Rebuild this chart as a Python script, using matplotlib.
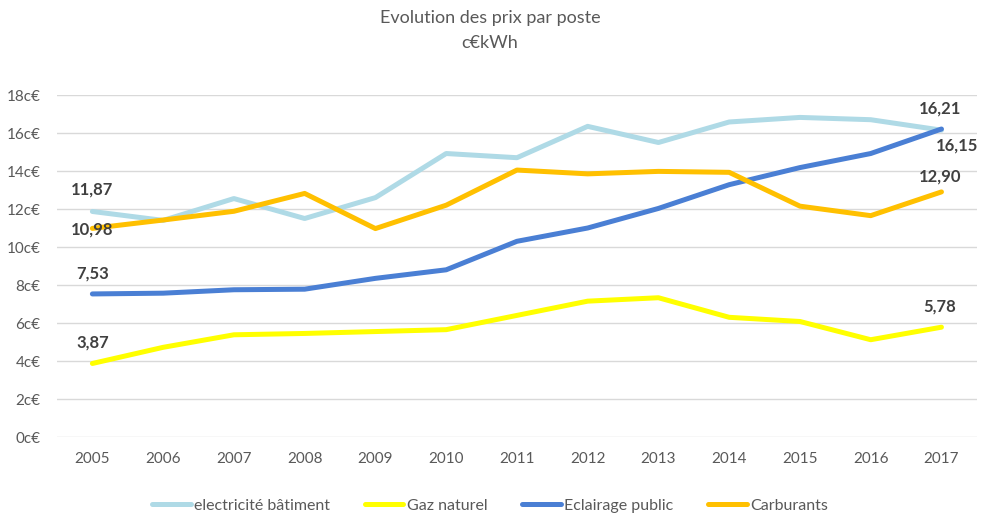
import matplotlib
matplotlib.use("Agg")
import matplotlib.pyplot as plt
from matplotlib.ticker import FuncFormatter

plt.rcParams['font.family'] = ['Lato', 'DejaVu Sans']

years = ['2005', '2006', '2007', '2008', '2009', '2010', '2011',
         '2012', '2013', '2014', '2015', '2016', '2017']
electricite = [11.87, 11.40, 12.55, 11.50, 12.60, 14.92, 14.70, 16.35, 15.50, 16.58, 16.82, 16.70, 16.15]
gaz = [3.87, 4.72, 5.38, 5.45, 5.55, 5.65, 6.40, 7.15, 7.33, 6.30, 6.08, 5.12, 5.78]
eclairage = [7.53, 7.57, 7.75, 7.78, 8.35, 8.80, 10.30, 11.00, 12.03, 13.28, 14.18, 14.92, 16.21]
carburants = [10.98, 11.42, 11.88, 12.82, 10.97, 12.20, 14.05, 13.85, 13.98, 13.93, 12.15, 11.65, 12.90]

names = ['electricité bâtiment', 'Gaz naturel', 'Eclairage public', 'Carburants']
colors = ['#AFDAE6', '#FFFF00', '#4A7FD4', '#FFC000']

fig = plt.figure(figsize=(9.88, 5.2), dpi=100)
ax = fig.add_axes([0.0577, 0.1596, 0.931, 0.6577])

x = list(range(len(years)))
series = [electricite, gaz, eclairage, carburants]
for vals, name, col in zip(series, names, colors):
    ax.plot(x, vals, color=col, lw=3.6, label=name, solid_capstyle='round',
            solid_joinstyle='round')

ax.set_xlim(-0.5, len(years) - 0.5)
ax.set_ylim(0, 18)
ax.set_yticks(range(0, 19, 2))
ax.yaxis.set_major_formatter(FuncFormatter(lambda v, p: f"{int(v)}c€"))
ax.set_xticks(x)
ax.set_xticklabels(years)
ax.tick_params(axis='both', length=0, colors='#595959', labelsize=11)
ax.tick_params(axis='y', pad=12)
ax.tick_params(axis='x', pad=11)
ax.grid(axis='y', color='#D9D9D9', lw=1)
ax.set_axisbelow(True)
for s in ax.spines.values():
    s.set_visible(False)

# data labels (first / last point)
lab = dict(fontsize=12, fontweight='bold', color='#404040', ha='center', va='center',
           textcoords='offset points')
def fmt(v):
    return f"{v:.2f}".replace('.', ',')

ax.annotate(fmt(electricite[0]), (0, electricite[0]), xytext=(0, 16), **lab)
ax.annotate(fmt(carburants[0]), (0, carburants[0]), xytext=(0, -1), **lab)
ax.annotate(fmt(eclairage[0]), (0, eclairage[0]), xytext=(0, 15), **lab)
ax.annotate(fmt(gaz[0]), (0, gaz[0]), xytext=(0, 15), **lab)
ax.annotate(fmt(eclairage[-1]), (12, eclairage[-1]), xytext=(-1, 15), **lab)
ax.annotate(fmt(electricite[-1]), (12, electricite[-1]), xytext=(11, -11), **lab)
ax.annotate(fmt(carburants[-1]), (12, carburants[-1]), xytext=(-1, 11), **lab)
ax.annotate(fmt(gaz[-1]), (12, gaz[-1]), xytext=(-1, 15), **lab)

fig.text(0.496, 0.965, 'Evolution des prix par poste', ha='center', va='center',
         fontsize=13, color='#595959')
fig.text(0.496, 0.918, 'c€kWh', ha='center', va='center', fontsize=13, color='#595959')

leg = fig.legend(loc='center', bbox_to_anchor=(0.496, 0.028), ncol=4, frameon=False,
                 fontsize=11.5, handlelength=2.4, columnspacing=2.2, handletextpad=0.2)
for t in leg.get_texts():
    t.set_color('#595959')

fig.savefig('out.png', dpi=100)
